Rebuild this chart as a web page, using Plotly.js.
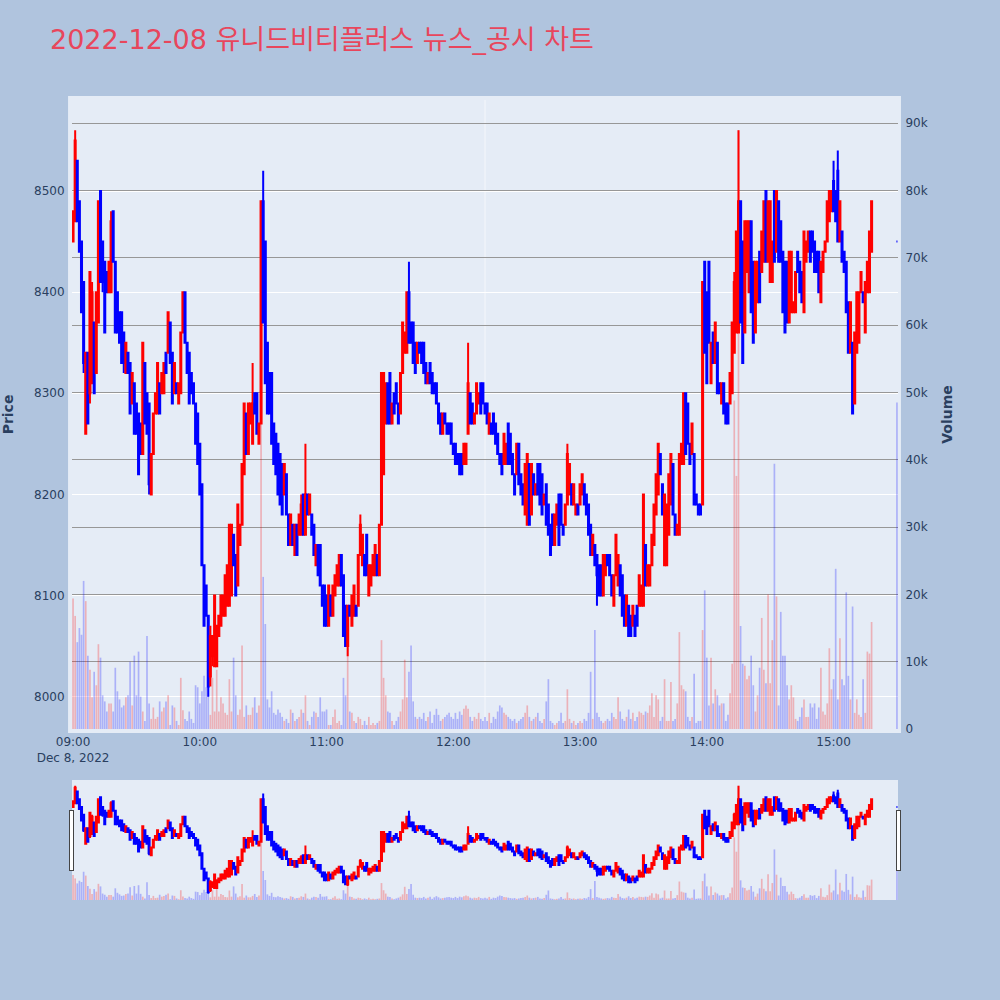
<!DOCTYPE html>
<html>
<head>
<meta charset="utf-8">
<script src="https://cdn.plot.ly/plotly-3.0.1.min.js"></script>
<style>
html,body{margin:0;padding:0;background:#B0C4DE;}
#chart{width:1000px;height:1000px;}
</style>
</head>
<body>
<div id="chart"></div>
<script>
// ---- Chart data (1-minute bars, 2022-12-08) ----
const tradeDate = '2022-12-08';
const sessionStartMinute = 9 * 60;        // 09:00
const closingAuctionTime = '15:30';       // last bar is the closing auction
const newsTime = '2022-12-08 12:15';
const chartTitle = '2022-12-08 유니드비티플러스 뉴스_공시 차트';

const openPrice = [
 8450,8470,8530,8490,8450,8410,8260,8340,8300,8310,8370,8320,8370,8500,8450,8430,8420,8400,8400,8480,
 8430,8400,8380,8380,8360,8320,8340,8330,8290,8310,8290,8280,8270,8240,8330,8300,8290,8200,8240,8280,
 8280,8310,8300,8300,8340,8340,8370,8340,8300,8310,8290,8300,8360,8400,
 8350,8340,8320,8310,8290,8280,8250,8210,8130,8110,8080,8020,8040,8030,8030,8060,8070,8080,8080,8090,
 8090,8100,8160,8140,8110,8150,8170,8220,8280,8240,8270,8250,8300,8300,8250,8270,8490,8450,8350,8320,
 8320,8270,8260,8250,8240,8230,8200,8220,8180,8150,8170,8140,8170,8160,8160,8200,8160,
 8200,8180,8180,8170,8130,8150,8150,8110,8110,8100,8070,8100,8080,8100,8110,8110,8140,8120,8090,8050,
 8090,8070,8080,8090,8090,8140,8130,8140,8160,8100,8110,8120,8120,8140,8120,8170,8220,8270,8310,8320,
 8270,8300,8310,8290,8280,8320,8340,8340,8400,8370,8370,8350,8330,8350,
 8350,8350,8330,8310,8330,8320,8310,8310,8290,8280,8260,8280,8270,8270,8270,8250,8250,8240,8240,8240,
 8230,8230,8260,8300,8290,8270,8280,8290,8310,8310,8290,8290,8260,8270,8280,8270,8260,8240,8240,8230,
 8230,8270,8260,8240,8220,8220,8250,8220,8210,8180,8170,8230,8180,8220,8200,8230,
 8230,8220,8190,8210,8190,8170,8180,8150,8170,8200,8200,8170,8170,8190,8200,8210,8190,8180,8190,8190,
 8200,8210,8200,8190,8170,8140,8150,8140,8130,8130,8100,8120,8140,8140,8120,8090,8120,8110,8130,8120,
 8100,8070,8090,8080,8070,8080,8090,8090,8090,8090,8150,8110,8110,8130,8150,
 8180,8200,8240,8210,8130,8130,8160,8190,8230,8180,8160,8160,8230,8230,8300,8290,8250,8240,8240,8200,
 8190,8190,8190,8430,8400,8430,8310,8360,8330,8350,8310,8290,8310,8290,8290,8290,8300,8340,8360,8360,
 8490,8450,8360,8420,8400,8470,8430,8360,8390,8440,8420,8430,8500,8430,8410,
 8410,8500,8440,8490,8470,8440,8430,8430,8370,8380,8380,8380,8440,8430,8420,8380,8430,8440,8460,8460,
 8450,8440,8440,8390,8420,8440,8450,8470,8480,8510,8500,8520,8450,8460,8440,8430,8390,8340,8350,8290,
 8340,8350,8400,8400,8360,8400,8400,8440,
 8450
];
const highPrice = [
 8480,8560,8530,8490,8450,8410,8340,8340,8420,8410,8370,8400,8490,8500,8450,8430,8420,8430,8480,8480,
 8430,8400,8380,8380,8360,8350,8340,8330,8320,8310,8290,8280,8270,8350,8330,8300,8290,8240,8280,8300,
 8330,8310,8320,8330,8340,8380,8370,8340,8330,8310,8310,8360,8400,8400,
 8350,8340,8320,8310,8290,8280,8250,8210,8130,8110,8080,8070,8060,8100,8070,8080,8100,8100,8120,8130,
 8170,8170,8160,8140,8190,8170,8230,8290,8280,8290,8290,8330,8300,8300,8270,8490,8520,8450,8350,8320,
 8320,8270,8260,8250,8240,8230,8230,8220,8180,8180,8170,8170,8170,8180,8200,8200,8250,
 8200,8200,8180,8170,8150,8150,8150,8110,8110,8100,8110,8100,8110,8120,8130,8140,8140,8120,8090,8090,
 8090,8100,8110,8090,8140,8180,8160,8140,8160,8130,8130,8140,8150,8140,8170,8320,8320,8310,8310,8320,
 8290,8300,8310,8290,8320,8370,8360,8400,8430,8370,8370,8350,8350,8350,
 8350,8350,8330,8320,8330,8320,8310,8310,8290,8280,8280,8280,8270,8270,8270,8250,8250,8240,8240,8240,
 8250,8250,8350,8300,8290,8280,8310,8300,8310,8310,8290,8290,8280,8270,8280,8270,8260,8240,8240,8260,
 8250,8270,8260,8240,8220,8250,8250,8220,8210,8230,8240,8230,8230,8220,8210,8230,
 8230,8220,8200,8210,8190,8170,8180,8180,8190,8200,8200,8170,8190,8250,8230,8210,8210,8190,8190,8210,
 8220,8210,8200,8190,8170,8160,8150,8140,8130,8130,8140,8140,8140,8140,8120,8120,8160,8140,8130,8120,
 8100,8100,8090,8080,8090,8080,8090,8120,8110,8200,8150,8130,8130,8160,8190,
 8220,8250,8240,8210,8200,8190,8220,8240,8230,8180,8170,8240,8250,8300,8300,8290,8250,8270,8240,8200,
 8190,8190,8410,8430,8400,8430,8350,8360,8370,8350,8310,8310,8310,8290,8290,8320,8370,8420,8460,8560,
 8490,8450,8470,8470,8470,8470,8430,8430,8430,8440,8460,8490,8500,8490,8490,
 8450,8500,8500,8490,8470,8440,8430,8430,8440,8440,8390,8420,8440,8430,8420,8460,8450,8460,8460,8460,
 8450,8440,8440,8430,8440,8450,8490,8500,8500,8530,8500,8540,8490,8460,8440,8430,8390,8390,8350,8360,
 8400,8400,8420,8400,8410,8430,8460,8490,
 8450
];
const lowPrice = [
 8450,8470,8470,8440,8380,8320,8260,8270,8290,8310,8300,8320,8370,8410,8400,8360,8400,8400,8400,8430,
 8360,8360,8350,8330,8320,8320,8320,8280,8290,8260,8260,8220,8240,8240,8270,8260,8200,8200,8240,8280,
 8280,8280,8300,8300,8320,8340,8330,8290,8300,8300,8290,8300,8360,8350,
 8320,8290,8300,8290,8250,8230,8200,8130,8070,8080,8000,8010,8030,8030,8030,8060,8070,8080,8080,8090,
 8090,8100,8130,8100,8110,8150,8170,8220,8240,8240,8270,8250,8280,8260,8250,8270,8370,8310,8280,8280,
 8250,8230,8220,8200,8190,8180,8200,8180,8150,8150,8150,8140,8140,8160,8160,8160,8160,
 8180,8180,8160,8140,8130,8120,8110,8090,8070,8070,8070,8080,8080,8100,8110,8110,8110,8060,8050,8040,
 8080,8070,8080,8080,8090,8140,8130,8120,8120,8100,8110,8120,8120,8120,8120,8170,8220,8270,8270,8270,
 8270,8280,8290,8270,8280,8320,8340,8340,8350,8350,8330,8320,8330,8340,
 8330,8320,8310,8310,8310,8300,8300,8290,8270,8260,8260,8270,8260,8260,8250,8240,8230,8230,8220,8220,
 8230,8230,8260,8270,8270,8270,8280,8290,8280,8290,8280,8270,8260,8260,8260,8250,8240,8230,8220,8230,
 8230,8230,8230,8220,8200,8220,8210,8200,8190,8180,8170,8170,8180,8200,8200,8200,
 8190,8180,8190,8170,8160,8140,8150,8150,8170,8150,8170,8160,8170,8190,8200,8190,8190,8180,8180,8190,
 8200,8190,8180,8160,8140,8140,8130,8090,8100,8100,8100,8120,8130,8120,8100,8090,8120,8110,8100,8080,
 8070,8070,8060,8060,8070,8060,8070,8090,8090,8090,8110,8110,8110,8130,8150,
 8180,8200,8220,8180,8130,8130,8160,8190,8180,8160,8160,8160,8230,8230,8240,8250,8230,8240,8190,8190,
 8180,8180,8190,8340,8310,8350,8310,8330,8330,8300,8300,8290,8280,8270,8270,8290,8300,8340,8360,8360,
 8370,8330,8360,8420,8400,8380,8350,8360,8390,8390,8420,8430,8430,8430,8410,
 8410,8430,8440,8430,8430,8380,8360,8370,8370,8380,8380,8380,8420,8400,8390,8380,8430,8440,8430,8440,
 8420,8420,8400,8390,8420,8440,8450,8470,8480,8480,8470,8450,8450,8430,8420,8380,8340,8340,8280,8290,
 8340,8350,8400,8390,8360,8400,8400,8440,
 8450
];
const closePrice = [
 8480,8550,8470,8440,8380,8330,8340,8270,8420,8400,8300,8400,8490,8410,8410,8360,8400,8430,8470,8430,
 8360,8360,8350,8330,8330,8350,8320,8280,8320,8260,8260,8220,8240,8350,8270,8260,8210,8240,8280,8300,
 8330,8280,8320,8330,8320,8380,8330,8290,8330,8300,8310,8360,8400,8350,
 8320,8290,8300,8290,8250,8230,8200,8130,8070,8080,8010,8060,8060,8100,8070,8080,8100,8100,8120,8130,
 8170,8170,8130,8100,8190,8170,8230,8290,8240,8290,8290,8290,8280,8260,8270,8490,8370,8310,8280,8280,
 8250,8230,8220,8200,8190,8180,8230,8180,8150,8180,8150,8170,8140,8180,8190,8160,8200,
 8180,8200,8160,8140,8150,8120,8110,8090,8070,8070,8110,8080,8110,8120,8130,8140,8110,8060,8050,8090,
 8080,8100,8110,8080,8140,8170,8160,8120,8120,8130,8130,8140,8150,8120,8170,8320,8320,8310,8270,8270,
 8290,8280,8290,8270,8320,8370,8360,8400,8350,8350,8330,8320,8350,8340,
 8330,8320,8310,8320,8310,8300,8300,8290,8270,8260,8280,8270,8260,8260,8250,8240,8230,8230,8220,8220,
 8250,8250,8310,8270,8270,8280,8310,8300,8280,8290,8280,8270,8280,8260,8260,8250,8240,8230,8220,8260,
 8250,8230,8230,8220,8200,8250,8210,8200,8190,8230,8240,8170,8230,8200,8210,8200,
 8190,8180,8200,8170,8160,8140,8150,8180,8190,8150,8170,8160,8190,8240,8230,8190,8210,8190,8180,8210,
 8220,8190,8180,8160,8140,8160,8130,8120,8100,8100,8140,8140,8130,8120,8100,8120,8160,8140,8100,8080,
 8070,8100,8060,8060,8090,8060,8070,8120,8110,8200,8110,8130,8130,8160,8190,
 8220,8250,8220,8180,8200,8190,8220,8240,8180,8160,8170,8240,8250,8300,8240,8250,8230,8270,8190,8190,
 8180,8180,8410,8340,8310,8350,8350,8330,8370,8300,8300,8310,8280,8270,8270,8320,8370,8410,8460,8490,
 8370,8330,8470,8470,8470,8380,8350,8430,8430,8390,8460,8490,8430,8490,8490,
 8450,8430,8500,8430,8430,8380,8360,8370,8440,8440,8390,8420,8420,8400,8390,8460,8450,8460,8430,8440,
 8420,8420,8400,8430,8440,8450,8490,8500,8500,8480,8470,8450,8490,8430,8420,8380,8340,8390,8280,8360,
 8400,8400,8420,8390,8410,8430,8460,8490,
 8450
];
const volume = [
 19400,16800,12900,15000,14000,22000,19000,10900,8800,4700,8500,6500,12600,10600,5000,4100,2600,3800,3800,2600,
 9100,5600,4400,3200,3500,4700,5000,10000,3500,10900,5000,11500,4800,2600,1200,13800,3800,1500,3200,1500,
 1800,4100,2600,3200,4100,5000,600,3500,3200,1200,600,7600,2800,1500,
 1200,2600,1500,900,6500,6200,3800,5600,7900,6200,6200,2100,7600,2600,8800,2600,4700,3800,2400,2100,
 7400,2600,10600,5000,2100,2900,12400,1800,3500,2100,2100,3200,4700,2400,3500,60000,22600,15600,4400,3200,
 5600,2400,2100,2900,2400,1800,1200,1500,900,2900,2400,1200,1500,1800,2900,2400,5000,
 1200,600,1800,2600,2400,1800,4700,2600,2600,2900,600,600,1800,2900,900,1200,600,7600,5000,12000,
 2600,2400,1200,900,1800,1500,600,1200,600,1800,600,900,600,900,1200,13200,7600,5000,2600,2400,
 1200,600,1200,1800,2600,4400,10300,4700,8500,12400,4100,1800,1500,1800,
 1500,2400,1200,1800,2600,900,2100,3000,2100,1200,1500,1800,2100,2400,1800,1500,2400,1500,2600,2100,
 3000,3500,3000,1800,1200,1800,1500,2400,1500,1200,1800,1200,2400,900,1800,1500,2600,3500,3200,2400,
 2100,1800,1500,1200,1500,900,1200,1500,1800,2400,3500,1800,1200,1500,1800,2400,
 1200,900,1500,4100,7400,1200,900,600,900,1200,2400,900,1200,5900,1500,900,1200,600,900,1200,
 900,1500,1200,2400,8500,1500,14700,2400,1800,1200,900,1200,1500,1200,2400,1800,1500,4700,2600,1500,
 1200,1800,2900,1500,2400,1200,1800,2600,2400,2100,2600,2400,3500,5300,1800,
 5000,4400,1200,1800,7400,1200,1200,7000,1200,1500,3800,14400,6500,5900,5600,1800,1200,1800,8200,900,
 1200,1200,14700,20600,10600,3500,10600,3800,5900,5000,3500,3800,3800,1200,2100,5300,9700,48800,37600,89000,
 15300,9700,9400,7400,7900,10900,6500,2600,5000,9100,16500,8800,6800,20000,6800,
 13200,39400,19700,3500,17400,10900,10900,6500,4400,6500,4700,1500,1200,1800,3200,4400,1800,1800,3800,3200,
 3800,1500,3200,9100,2600,2100,3800,12000,5900,7400,23800,4400,13500,7400,6500,20300,7900,4400,18200,2400,
 4400,2100,1800,7400,2400,11500,11200,15900,
 48500
];

// ---- time labels: continuous 1-minute bars from 09:00, last one is the 15:30 closing auction ----
function pad2(n){ return (n < 10 ? '0' : '') + n; }
const times = openPrice.map(function(_, i){
  if (i === openPrice.length - 1) return tradeDate + ' ' + closingAuctionTime;
  const m = sessionStartMinute + i;
  return tradeDate + ' ' + pad2(Math.floor(m / 60)) + ':' + pad2(m % 60);
});

// volume colour follows the candle direction
const volColors = closePrice.map(function(c, i){
  const o = openPrice[i];
  const up = c > o || (c === o && i > 0 && c > closePrice[i - 1]);
  return up ? 'rgba(255,0,0,0.25)' : 'rgba(0,0,255,0.25)';
});

const traces = [
  {
    type: 'candlestick',
    x: times, open: openPrice, high: highPrice, low: lowPrice, close: closePrice,
    increasing: { line: { color: 'red', width: 2 }, fillcolor: 'red' },
    decreasing: { line: { color: 'blue', width: 2 }, fillcolor: 'blue' },
    xaxis: 'x', yaxis: 'y', name: '주가', showlegend: false
  },
  {
    type: 'bar',
    x: times, y: volume,
    marker: { color: volColors, line: { width: 0 } },
    xaxis: 'x', yaxis: 'y2', name: '거래량', showlegend: false
  }
];

const baseFont = 'DejaVu Sans, Noto Sans CJK KR, sans-serif';
const layout = {
  width: 1000, height: 1000,
  paper_bgcolor: '#B0C4DE',
  plot_bgcolor: '#E5ECF6',
  font: { family: baseFont, size: 12, color: '#2a3f5f' },
  title: {
    text: chartTitle,
    font: { family: baseFont, size: 27, color: '#E8465C' },
    x: 0.05, xref: 'container', xanchor: 'left',
    y: 0.96, yref: 'container', yanchor: 'middle'
  },
  margin: { l: 72, r: 102, t: 100, b: 100 },
  showlegend: false,
  bargap: 0.2,
  xaxis: {
    type: 'date',
    range: ['2022-12-08 08:59:30', '2022-12-08 15:30:30'],
    showgrid: false, zeroline: false,
    tick0: '2022-12-08 09:00', dtick: 3600000,
    ticks: 'outside', ticklen: 2, tickcolor: 'rgba(0,0,0,0)',
    automargin: false,
    rangeslider: { visible: true, thickness: 0.15 }
  },
  yaxis: {
    title: { text: '<b>Price</b>', font: { size: 14, color: '#2a3f5f' }, standoff: 20 },
    range: [7968, 8590], dtick: 100,
    gridcolor: 'white', gridwidth: 1, zeroline: false, automargin: false,
    ticks: 'outside', ticklen: 4, tickcolor: 'rgba(0,0,0,0)'
  },
  yaxis2: {
    title: { text: '<b>Volume</b>', font: { size: 14, color: '#2a3f5f' }, standoff: 15 },
    overlaying: 'y', side: 'right',
    range: [0, 93450], dtick: 10000,
    showgrid: true, gridcolor: '#979797', gridwidth: 1,
    zeroline: false, automargin: false,
    ticks: 'outside', ticklen: 4, tickcolor: 'rgba(0,0,0,0)'
  },
  shapes: [
    { type: 'rect', xref: 'paper', yref: 'paper', x0: -0.0048, x1: 1.0036, y0: -0.0064, y1: 1.0064,
      fillcolor: '#E5ECF6', line: { width: 0 }, layer: 'below' },
    { type: 'line', xref: 'x', yref: 'paper', x0: newsTime, x1: newsTime, y0: 0, y1: 1,
      line: { color: 'rgba(255,255,255,0.6)', width: 1 }, layer: 'below' }
  ]
};

Plotly.newPlot('chart', traces, layout, { displayModeBar: false, responsive: false });
</script>
</body>
</html>
